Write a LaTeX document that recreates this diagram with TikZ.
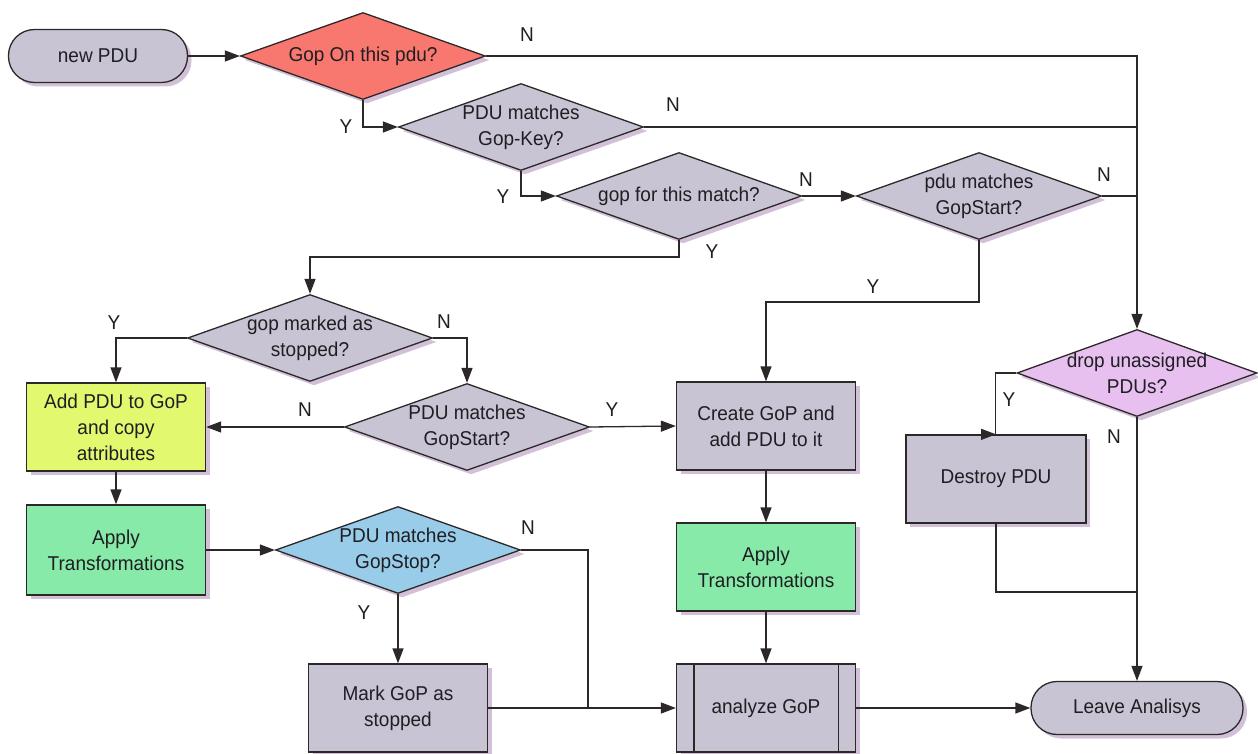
\documentclass[tikz,border=0pt]{standalone}
\usepackage{fontspec}
\setmainfont{Liberation Sans}[FakeStretch=0.95]
\usetikzlibrary{shapes.geometric,arrows.meta,shadows}
\definecolor{lgrey}{RGB}{200,196,212}
\definecolor{cred}{RGB}{248,120,112}
\definecolor{cyel}{RGB}{226,248,110}
\definecolor{cgrn}{RGB}{136,234,168}
\definecolor{cblu}{RGB}{152,204,232}
\definecolor{cpnk}{RGB}{232,192,240}
\definecolor{ln}{RGB}{45,40,40}
\definecolor{txt}{RGB}{30,30,35}
\definecolor{shd}{RGB}{196,172,204}
\begin{document}
\begin{tikzpicture}[x=1pt,y=-1pt,
 every node/.style={font=\fontsize{20}{26}\selectfont, text=txt},
 base/.style={draw=ln, line width=1.3pt, drop shadow={shadow xshift=4pt, shadow yshift=-4pt, fill=shd, opacity=0.75}},
 box/.style={base, rectangle, minimum width=179pt, minimum height=88pt, align=center, inner sep=0pt, fill=lgrey},
 term/.style={base, rectangle, rounded corners=26pt, minimum height=53pt, inner sep=0pt, fill=lgrey},
 dia/.style={base, diamond, minimum width=245pt, minimum height=87pt, inner sep=0pt, fill=lgrey},
 dl/.style={align=center, inner sep=0pt},
 yn/.style={inner sep=0pt},
 con/.style={draw=ln, line width=1.3pt},
 arr/.style={con, -{Triangle[length=15pt,width=11pt]}},
]
\path[use as bounding box, fill=white] (0,0) rectangle (1258,754);

% terminals
\node[term, minimum width=179pt] (start) at (98,56) {new PDU};
\node[term, minimum width=212pt] (leave) at (1137,708) {Leave Analisys};

% decisions
\node[dia, fill=cred, label={[dl]center:{Gop On this pdu?}}] (d1) at (363,56) {};
\node[dia, label={[dl]center:{PDU matches\\Gop-Key?}}] (d2) at (521,127) {};
\node[dia, label={[dl]center:{gop for this match?}}] (d3) at (679,196) {};
\node[dia, label={[dl]center:{pdu matches\\GopStart?}}] (d4) at (979,196) {};
\node[dia, label={[dl]center:{gop marked as\\stopped?}}] (d5) at (310,338) {};
\node[dia, label={[dl]center:{PDU matches\\GopStart?}}] (d6) at (467,427) {};
\node[dia, fill=cblu, label={[dl]center:{PDU matches\\GopStop?}}] (d7) at (398,550) {};
\node[dia, fill=cpnk, minimum width=240pt, label={[dl]center:{drop unassigned\\PDUs?}}] (drop) at (1137,373) {};

% boxes
\node[box, fill=cyel] (add) at (116,427) {Add PDU to GoP\\and copy\\attributes};
\node[box, fill=cgrn, minimum height=90pt] (app1) at (116,550) {Apply\\Transformations};
\node[box] (mark) at (398,708) {Mark GoP as\\stopped};
\node[box] (create) at (766,426) {Create GoP and\\add PDU to it};
\node[box, fill=cgrn] (app2) at (766,567) {Apply\\Transformations};
\node[box] (analyze) at (766,708) {analyze GoP};
\draw[con] ([xshift=18pt]analyze.north west) -- ([xshift=18pt]analyze.south west);
\draw[con] ([xshift=-18pt]analyze.north east) -- ([xshift=-18pt]analyze.south east);
\node[box, minimum width=180pt] (destroy) at (996,479) {Destroy PDU};

% helper coordinates
\coordinate (k1) at (0,257);
\coordinate (k2) at (0,302);
\coordinate (k3) at (588,708);
\coordinate (k4) at (1137,592);

% connectors
\draw[arr] (start.east) -- (d1.west);
\draw[arr] (d1.east) -- (d1.east -| drop.north) -- (drop.north);
\draw[con] (d2.east) -- (d2.east -| drop.north);
\draw[con] (d4.east) -- (d4.east -| drop.north);
\draw[arr] (d1.south) |- (d2.west);
\draw[arr] (d2.south) |- (d3.west);
\draw[arr] (d3.east) -- (d4.west);
\draw[arr] (d3.south) -- (d3.south |- k1) -| (d5.north);
\draw[arr] (d4.south) -- (d4.south |- k2) -| (create.north);
\draw[arr] (d5.west) -| (add.north);
\draw[arr] (d5.east) -| (d6.north);
\draw[arr] (d6.west) -- (add.east);
\draw[arr] (d6.east) -- (create.west);
\draw[arr] (add.south) -- (app1.north);
\draw[arr] (app1.east) -- (d7.west);
\draw[arr] (d7.south) -- (mark.north);
\draw[con] (d7.east) -| (k3);
\draw[arr] (mark.east) -- (analyze.west);
\draw[arr] (create.south) -- (app2.north);
\draw[arr] (app2.south) -- (analyze.north);
\draw[arr] (analyze.east) -- (leave.west);
\draw[arr] (drop.west) -- ++(-21,0) |- (destroy.north);
\draw[arr] (drop.south) -- (leave.north);
\draw[con] (destroy.south) |- (k4);

% Y/N labels
\node[yn] (n1) at (527,35) {N};
\node[yn] (y1) at (346,127) {Y};
\node[yn] (n2) at (673,105) {N};
\node[yn] (y2) at (503,197) {Y};
\node[yn] (n3) at (806,180) {N};
\node[yn] (n4) at (1104,175) {N};
\node[yn] (y3) at (712,252) {Y};
\node[yn] (y4) at (873,287) {Y};
\node[yn] (y5) at (114,323) {Y};
\node[yn] (n5) at (444,322) {N};
\node[yn] (n6) at (305,410) {N};
\node[yn] (y6) at (612,410) {Y};
\node[yn] (y7) at (1009,400) {Y};
\node[yn] (n7) at (1114,437) {N};
\node[yn] (n8) at (528,528) {N};
\node[yn] (y8) at (364,613) {Y};
\end{tikzpicture}
\end{document}
